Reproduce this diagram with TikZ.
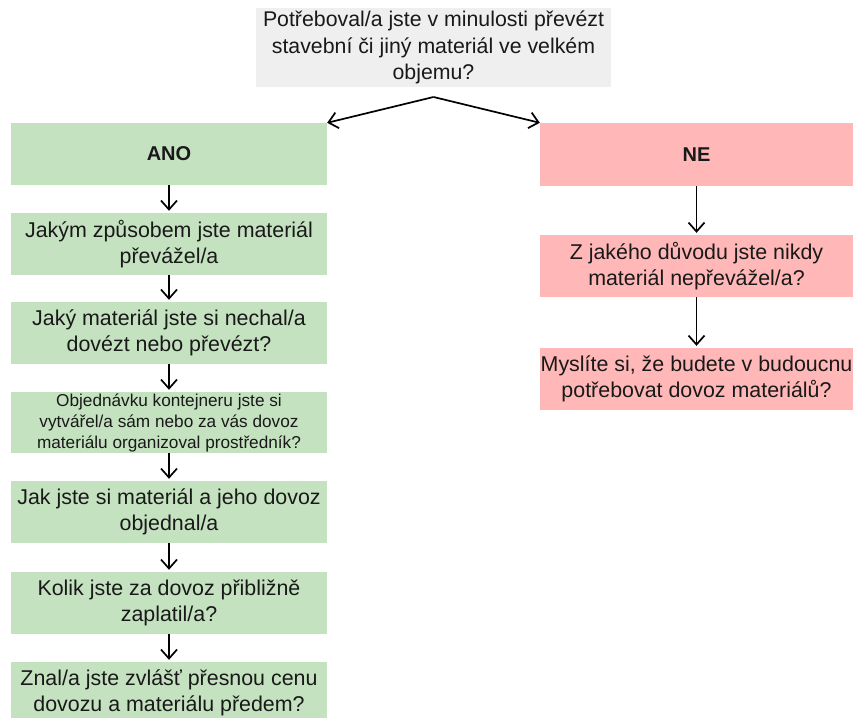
\documentclass[tikz,border=0pt]{standalone}
\usepackage{fontspec}
\setmainfont{Liberation Sans}
\usetikzlibrary{arrows.meta}
\definecolor{boxgray}{RGB}{239,239,239}
\definecolor{boxgreen}{RGB}{197,226,192}
\definecolor{boxpink}{RGB}{255,183,183}
\definecolor{txt}{RGB}{25,25,25}
\begin{document}
\begin{tikzpicture}[x=1pt,y=-1pt,
  box/.style={inner sep=0pt, align=center, text=txt, font=\fontsize{21.4}{25.5}\selectfont},
  gbox/.style={box, fill=boxgreen, minimum width=316pt, minimum height=62pt},
  pbox/.style={box, fill=boxpink, minimum width=313pt, minimum height=62pt},
  arr/.style={line width=1.7pt, draw=black, -{Straight Barb[length=9pt,width=16pt,line width=1.7pt]}},
  ]
\useasboundingbox (0,0) rectangle (853,717);
\fill[white] (0,0) rectangle (853,717);

\node[box, fill=boxgray, minimum width=355pt, minimum height=79pt, font=\fontsize{21.3}{26.5}\selectfont] (top) at (433.5,47.5)
  {Potřeboval/a jste v minulosti převézt\\stavební či jiný materiál ve velkém\\objemu?};
\coordinate (apex) at (433.5,97);

\node[gbox, font=\fontsize{20}{25}\selectfont\bfseries] (ano) at (169,154) {ANO};
\node[gbox] (a1) at (169,244) {Jakým způsobem jste materiál\\převážel/a};
\node[gbox] (a2) at (169,333) {Jaký materiál jste si nechal/a\\dovézt nebo převézt?};
\node[gbox, minimum height=61pt, font=\fontsize{17.2}{21}\selectfont] (a3) at (169,422.5)
  {Objednávku kontejneru jste si\\vytvářel/a sám nebo za vás dovoz\\materiálu organizoval prostředník?};
\node[gbox] (a4) at (169,512) {Jak jste si materiál a jeho dovoz\\objednal/a};
\node[gbox] (a5) at (169,603) {Kolik jste za dovoz přibližně\\zaplatil/a?};
\node[gbox] (a6) at (169,693) {Znal/a jste zvlášť přesnou cenu\\dovozu a materiálu předem?};

\node[pbox, minimum height=63pt, font=\fontsize{20}{25}\selectfont\bfseries] (ne) at (696.5,154.5) {NE};
\node[pbox] (n1) at (696.5,266) {Z jakého důvodu jste nikdy\\materiál nepřevážel/a?};
\node[pbox] (n2) at (696.5,379) {Myslíte si, že budete v budoucnu\\potřebovat dovoz materiálů?};

\draw[arr] (apex) -- (ano.north east);
\draw[arr] (apex) -- (ne.north west);
\foreach \a/\b in {ano/a1,a1/a2,a2/a3,a3/a4,a4/a5,a5/a6,ne/n1,n1/n2}
  \draw[arr, shorten >=2pt] (\a.south) -- (\b.north);
\end{tikzpicture}
\end{document}
